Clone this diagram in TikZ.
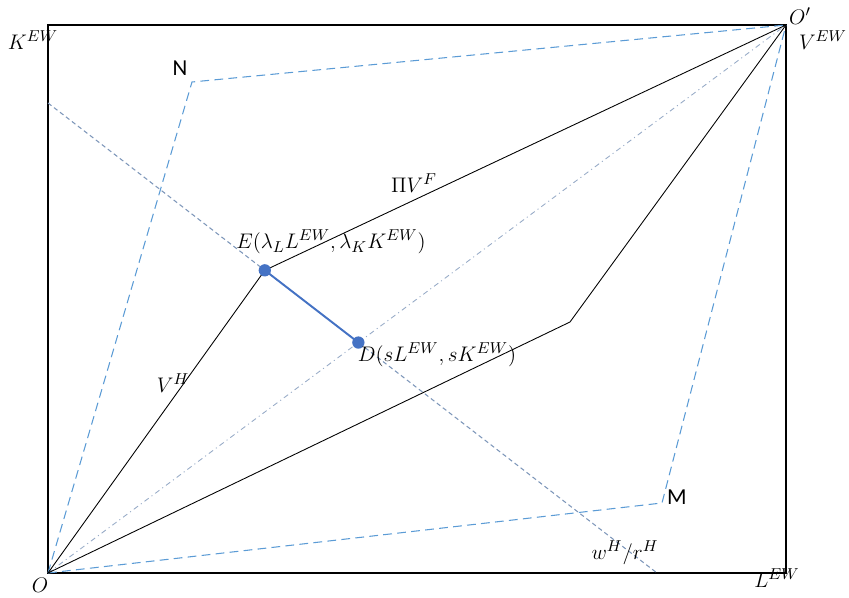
\documentclass[tikz,border=0pt]{standalone}
\usepackage{amsmath,amssymb}
\usepackage{fontspec}
\newfontfamily\calfont{Carlito}
\usepackage{xcolor}
\usepackage{tikz}
\usetikzlibrary{positioning,calc}
\definecolor{offblue}{RGB}{91,155,213}
\definecolor{dotblue}{RGB}{68,114,196}
\definecolor{greyblue}{RGB}{125,150,185}

\begin{document}
\begin{tikzpicture}[x=0.2mm,y=0.2mm,font=\fontsize{13}{16}\selectfont,
  bnd/.style={dashed,dash pattern=on 5pt off 3pt,offblue,line width=0.6pt},
  diag/.style={dash pattern=on 3pt off 2pt on 0.6pt off 2pt,greyblue!80,line width=0.5pt},
  iso/.style={dash pattern=on 2.5pt off 1.8pt,greyblue,line width=0.6pt},
  pt/.style={circle,fill=dotblue,inner sep=0pt,minimum size=7pt},
  sans/.style={font=\calfont\fontsize{13}{16}\selectfont}]
  \useasboundingbox (-48,-25) rectangle (801,573);
  % box and corner points
  \coordinate (O) at (0,0);
  \coordinate (Op) at (738,548);
  \coordinate (Lx) at (738,0);
  \coordinate (Ky) at (0,548);
  \coordinate (N) at (144,491);
  \coordinate (M) at (614,70);
  \coordinate (k) at (522,251);
  \coordinate (a) at (0,470);
  \coordinate (b) at (609,0);
  \draw[line width=0.6pt] (O)--(Lx)--(Op)--(Ky)--cycle;
  % budget lines
  \draw[bnd] (O)--(N)--(Op);
  \draw[bnd] (O)--(M)--(Op);
  \draw[diag] (O)--(Op);
  \draw[iso] (a)--(b);
  \path (intersection of a--b and O--Op) coordinate (D);
  \coordinate (E) at ($(a)!0.356!(b)$);
  \draw[line width=0.5pt] (O)--(E)--(Op);
  \draw[line width=0.5pt] (O)--(k)--(Op);
  \draw[dotblue,line width=1.1pt] (E)--(D);
  \node[pt] (Ed) at (E) {};
  \node[pt] (Dd) at (D) {};
  % labels
  \node (lK) at (-15,533) {$K^{EW}$};
  \node[sans] (lN) at (132,505) {N};
  \node (lOp) at (752,557) {$O'$};
  \node (lV) at (775,533) {$V^{EW}$};
  \node (lPi) at (366,390) {$\Pi V^{F}$};
  \node (lE) at (283,331) {$E(\lambda_L L^{EW},\lambda_K K^{EW})$};
  \node (lD) at (389,218) {$D(sL^{EW},sK^{EW})$};
  \node (lVH) at (125,190) {$V^{H}$};
  \node[sans] (lM) at (629,76) {M};
  \node (lw) at (577,20) {$w^{H}/r^{H}$};
  \node (lO) at (-8,-12) {$O$};
  \node (lL) at (729,-5) {$L^{EW}$};
\end{tikzpicture}
\end{document}
